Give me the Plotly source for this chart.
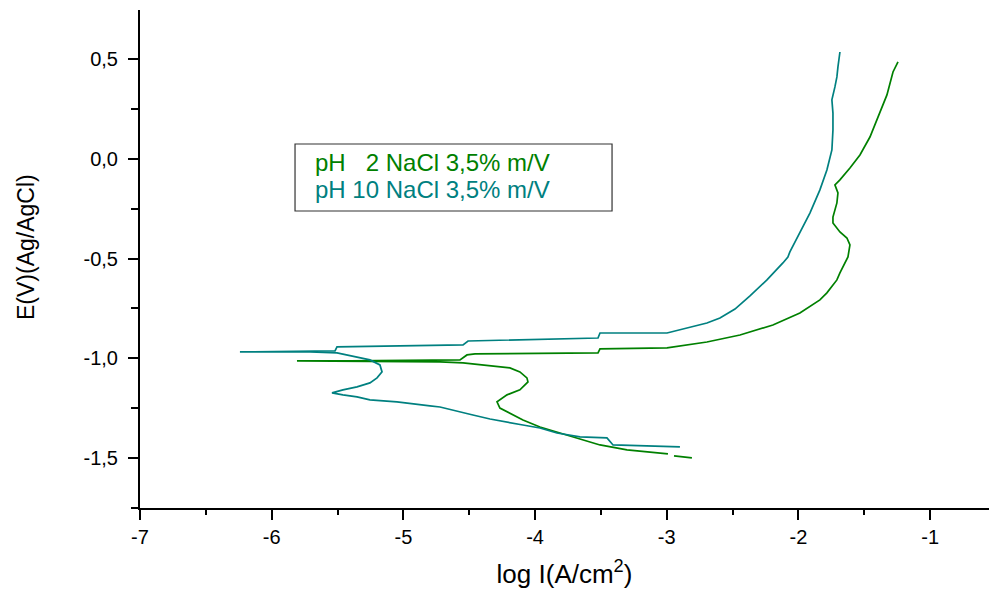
import plotly.graph_objects as go

# ---- data ----
ph2_logi = [-2.809, -2.945, None, -2.991, -3.150, -3.302, -3.507, -3.583, -3.712, -3.834, -3.963,
            -4.092, -4.168, -4.267, -4.289, -4.213, -4.115, -4.054, -4.062, -4.115, -4.191,
            -4.342, -4.547, -4.722, -5.026, -5.808, -5.405, -4.570, -4.517, -4.456, -3.522,
            -3.507, -2.998, -2.695, -2.444, -2.194, -1.989, -1.837, -1.784, -1.708, -1.685,
            -1.624, -1.609, -1.632, -1.685, -1.738, -1.738, -1.708, -1.700, -1.723, -1.685,
            -1.609, -1.533, -1.457, -1.396, -1.328, -1.282, -1.244]
ph2_e = [-1.499, -1.489, None, -1.479, -1.469, -1.459, -1.434, -1.419, -1.394, -1.369, -1.344,
         -1.309, -1.284, -1.249, -1.218, -1.183, -1.158, -1.118, -1.098, -1.068, -1.048,
         -1.038, -1.023, -1.018, -1.016, -1.013, -1.013, -1.008, -0.983, -0.978, -0.973,
         -0.953, -0.948, -0.918, -0.883, -0.833, -0.773, -0.707, -0.672, -0.607, -0.572,
         -0.492, -0.432, -0.397, -0.367, -0.322, -0.292, -0.221, -0.171, -0.131, -0.106,
         -0.046, 0.019, 0.109, 0.209, 0.320, 0.435, 0.485]

ph10_logi = [-2.900, -3.408, -3.454, -3.659, -3.834, -3.963, -4.092, -4.213, -4.342, -4.472,
             -4.593, -4.722, -4.798, -5.049, -5.254, -5.352, -5.459, -5.542, -5.459, -5.352,
             -5.254, -5.200, -5.162, -5.178, -5.254, -5.352, -5.504, -5.709, -6.241, -5.519,
             -5.504, -4.547, -4.509, -3.522, -3.507, -2.998, -2.824, -2.695, -2.596, -2.482,
             -2.368, -2.239, -2.118, -2.080, -2.065, -1.989, -1.913, -1.837, -1.784, -1.746,
             -1.738, -1.738, -1.746, -1.723, -1.708, -1.700, -1.685]
ph10_e = [-1.444, -1.434, -1.399, -1.394, -1.374, -1.349, -1.334, -1.319, -1.304, -1.284,
          -1.264, -1.244, -1.238, -1.218, -1.208, -1.193, -1.183, -1.173, -1.158, -1.143,
          -1.123, -1.098, -1.068, -1.033, -1.008, -0.993, -0.973, -0.968, -0.968, -0.963,
          -0.943, -0.933, -0.913, -0.898, -0.873, -0.873, -0.843, -0.823, -0.798, -0.753,
          -0.687, -0.607, -0.522, -0.492, -0.467, -0.372, -0.272, -0.156, -0.056, 0.044,
          0.144, 0.229, 0.295, 0.360, 0.410, 0.460, 0.535]

x_tickvals = [-7, -6, -5, -4, -3, -2, -1]
x_ticktext = ["-7", "-6", "-5", "-4", "-3", "-2", "-1"]
y_tickvals = [0.5, 0.0, -0.5, -1.0, -1.5]
y_ticktext = ["0,5", "0,0", "-0,5", "-1,0", "-1,5"]

label_ph2 = "pH \u20072 NaCl 3,5% m/V"
label_ph10 = "pH 10 NaCl 3,5% m/V"
y_title = "E(V)(Ag/AgCl)"
x_title = "log I(A/cm<sup>2</sup>)"

GREEN = "#008000"
TEAL = "#008080"
FONT = "Liberation Sans, Arial, sans-serif"

fig = go.Figure()
fig.add_trace(go.Scatter(x=ph2_logi, y=ph2_e, mode="lines", name=label_ph2,
                         line=dict(color=GREEN, width=1.7), connectgaps=False))
fig.add_trace(go.Scatter(x=ph10_logi, y=ph10_e, mode="lines", name=label_ph10,
                         line=dict(color=TEAL, width=1.7)))

axis_common = dict(
    showline=True, linecolor="black", linewidth=2, mirror=False,
    ticks="outside", ticklen=10, tickwidth=2, tickcolor="black",
    showgrid=False, zeroline=False,
    tickfont=dict(family=FONT, size=20, color="black"),
)

fig.update_xaxes(
    range=[-7, -0.553], tickvals=x_tickvals, ticktext=x_ticktext,
    minor=dict(ticks="outside", ticklen=5, tickwidth=2, tickcolor="black", dtick=0.5, tick0=-7),
    title=dict(text=x_title, font=dict(family=FONT, size=26, color="black"), standoff=18),
    **axis_common,
)
fig.update_yaxes(
    range=[-1.75, 0.7455], tickvals=y_tickvals, ticktext=y_ticktext,
    minor=dict(ticks="outside", ticklen=7, tickwidth=2, tickcolor="black", dtick=0.25, tick0=-1.5),
    ticklabelstandoff=6,
    **axis_common,
)

# y-axis title (placed as in the reference, slightly above centre)
fig.add_annotation(xref="paper", yref="paper", x=-0.1343, y=0.524, xanchor="center",
                   yanchor="middle", text=y_title, textangle=-90, showarrow=False,
                   font=dict(family=FONT, size=23, color="black"))

# legend box
fig.add_shape(type="rect", xref="paper", yref="paper",
              x0=0.1826, x1=0.556, y0=0.5964, y1=0.7309,
              line=dict(color="#333333", width=1.2), fillcolor="rgba(0,0,0,0)")
fig.add_annotation(xref="paper", yref="paper", x=0.2038, y=0.6928, xanchor="left",
                   yanchor="middle", text=label_ph2, showarrow=False,
                   font=dict(family=FONT, size=24, color=GREEN))
fig.add_annotation(xref="paper", yref="paper", x=0.2038, y=0.6386, xanchor="left",
                   yanchor="middle", text=label_ph10, showarrow=False,
                   font=dict(family=FONT, size=24, color=TEAL))

fig.update_layout(
    width=989, height=590,
    margin=dict(l=140, r=0, t=10, b=82),
    paper_bgcolor="white", plot_bgcolor="white",
    showlegend=False,
)

fig.write_html("out.html")
